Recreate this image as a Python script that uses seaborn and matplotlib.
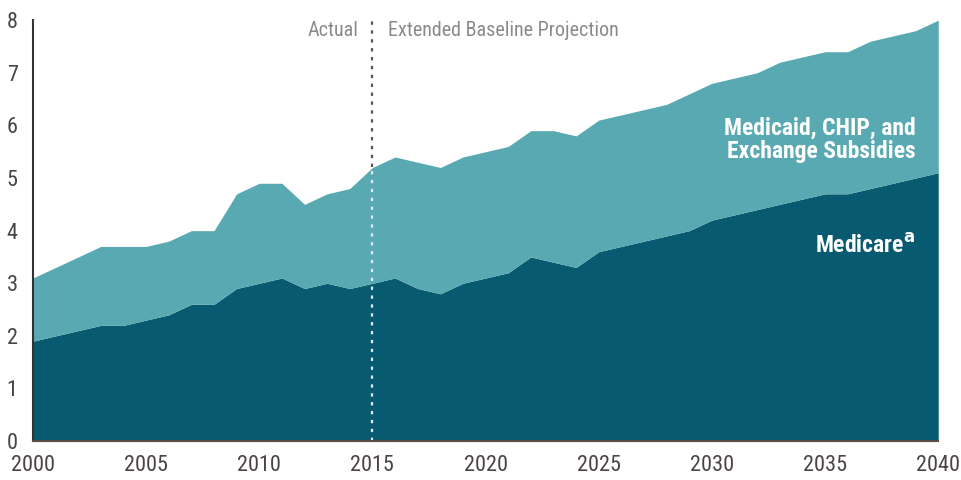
import pandas as pd
import numpy as np
import matplotlib.pyplot as plt
import seaborn as sns

years = list(range(2000, 2041))
medicare = [1.9, 2.0, 2.1, 2.2, 2.2, 2.3, 2.4, 2.6, 2.6, 2.9,
            3.0, 3.1, 2.9, 3.0, 2.9, 3.0, 3.1, 2.9, 2.8, 3.0,
            3.1, 3.2, 3.5, 3.4, 3.3, 3.6, 3.7, 3.8, 3.9, 4.0,
            4.2, 4.3, 4.4, 4.5, 4.6, 4.7, 4.7, 4.8, 4.9, 5.0, 5.1]
total = [3.1, 3.3, 3.5, 3.7, 3.7, 3.7, 3.8, 4.0, 4.0, 4.7,
         4.9, 4.9, 4.5, 4.7, 4.8, 5.2, 5.4, 5.3, 5.2, 5.4,
         5.5, 5.6, 5.9, 5.9, 5.8, 6.1, 6.2, 6.3, 6.4, 6.6,
         6.8, 6.9, 7.0, 7.2, 7.3, 7.4, 7.4, 7.6, 7.7, 7.8, 8.0]
x_ticks = [2000, 2005, 2010, 2015, 2020, 2025, 2030, 2035, 2040]
y_ticks = [0, 1, 2, 3, 4, 5, 6, 7, 8]

df = pd.DataFrame({"year": years, "medicare": medicare, "total": total})

sns.set_style("white")
plt.rcParams["font.family"] = ["Roboto Condensed", "Roboto", "DejaVu Sans"]

DARK = "#075a70"
LIGHT = "#58a9b1"
TXT = "#4a4444"

fig = plt.figure(figsize=(9.61, 4.8), dpi=100)
ax = fig.add_axes([0.0343, 0.081, 0.942, 0.877])

ax.fill_between(df["year"], 0, df["medicare"], color=DARK, lw=0)
ax.fill_between(df["year"], df["medicare"], df["total"], color=LIGHT, lw=0)

# divider between actual and projection
top15 = df.loc[df["year"] == 2015, "total"].iloc[0]
ax.plot([2015, 2015], [top15, 8.0], ls=(0, (1.5, 2.5)), color="#555555", lw=1.6)
ax.plot([2015, 2015], [0, top15], ls=(0, (1.5, 2.5)), color="#dcecef", lw=1.6)

ax.text(2014.4, 7.8, "Actual", ha="right", va="center", fontsize=14.5, color="#8a8a8a")
ax.text(2015.7, 7.8, "Extended Baseline Projection", ha="left", va="center", fontsize=14.5, color="#8a8a8a")

ax.text(2039.0, 5.72, "Medicaid, CHIP, and\nExchange Subsidies", ha="right", va="center",
        fontsize=17, fontweight="bold", color="white", linespacing=1.0)
ax.text(2039.0, 3.72, r"Medicare$^{\mathbf{a}}$", ha="right", va="center",
        fontsize=17, fontweight="bold", color="white")

ax.set_xlim(2000, 2040)
ax.set_ylim(0, 8)
ax.set_xticks(x_ticks)
ax.set_yticks(y_ticks)
ax.tick_params(axis="y", direction="in", length=6, width=1.5, color="#333333",
               labelsize=16, labelcolor=TXT, pad=11)
ax.tick_params(axis="x", direction="in", length=4, width=1.2, color="#e0f0f2",
               labelsize=16, labelcolor=TXT, pad=10)
for s in ["top", "right"]:
    ax.spines[s].set_visible(False)
ax.spines["left"].set_color("#333333")
ax.spines["left"].set_linewidth(1.5)
ax.spines["bottom"].set_color("#5a4a44")
ax.spines["bottom"].set_linewidth(1.5)
for sp in ax.spines.values():
    sp.set_zorder(5)

fig.savefig("out.png", dpi=100)
